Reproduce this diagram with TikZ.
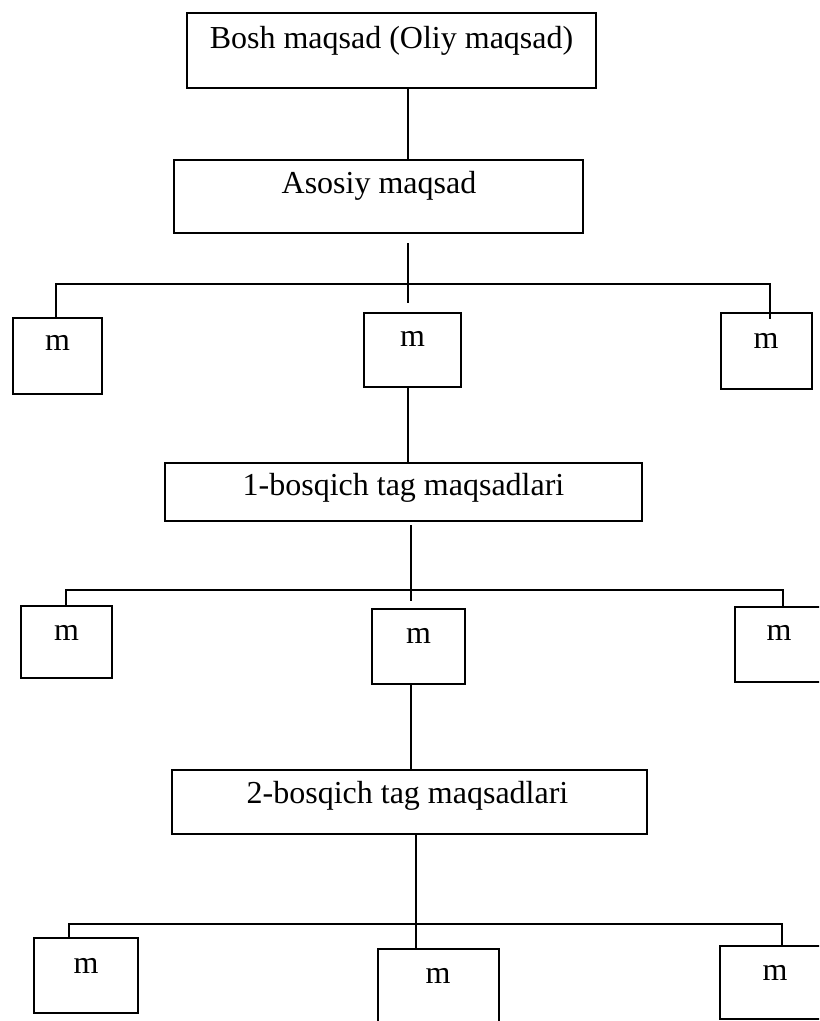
\documentclass[tikz,border=0pt]{standalone}
\usepackage{fontspec}
\setmainfont{Liberation Serif}
\begin{document}
\begin{tikzpicture}[x=0.75pt, y=-0.75pt,
  box/.style 2 args={draw, line width=1.5pt, rectangle, inner sep=0pt, outer sep=0pt,
    minimum width=#1*0.75pt, minimum height=#2*0.75pt},
  lbl/.style={anchor=base, inner sep=0pt, font=\fontsize{24}{28}\selectfont},
  link/.style={line width=1.5pt}]
\clip (0,0) rectangle (819,1021);
\fill[white] (0,0) rectangle (819,1021);

% top levels
\node[box={409}{75}] (bosh) at (391.5,50.5) {};
\node[lbl] (bosh-t) at (391.5,48) {Bosh maqsad (Oliy maqsad)};
\node[box={409}{73}] (asosiy) at (378.5,196.5) {};
\node[lbl] (asosiy-t) at (379,193) {Asosiy maqsad};

% first row of sub-goals
\node[box={89}{76}] (r1l) at (57.5,356) {};
\node[box={97}{74}] (r1m) at (412.5,350) {};
\node[box={91}{76}] (r1r) at (766.5,351) {};
\node[lbl] (r1l-t) at (57.5,350) {m};
\node[lbl] (r1m-t) at (412.5,346) {m};
\node[lbl] (r1r-t) at (766,348) {m};

\node[box={477}{58}] (b1) at (403.5,492) {};
\node[lbl] (b1-t) at (403.5,495) {1-bosqich tag maqsadlari};

% second row
\node[box={91}{72}] (r2l) at (66.5,642) {};
\node[box={93}{75}] (r2m) at (418.5,646.5) {};
\node[box={125}{75}] (r2r) at (797.5,644.5) {};
\node[lbl] (r2l-t) at (66.5,640) {m};
\node[lbl] (r2m-t) at (418.5,643) {m};
\node[lbl] (r2r-t) at (779,640) {m};

\node[box={475}{64}] (b2) at (409.5,802) {};
\node[lbl] (b2-t) at (407.5,803) {2-bosqich tag maqsadlari};

% third row
\node[box={104}{75}] (r3l) at (86,975.5) {};
\node[box={121}{121}] (r3m) at (438.5,1009.5) {};
\node[box={140}{73}] (r3r) at (790,982.5) {};
\node[lbl] (r3l-t) at (86,973) {m};
\node[lbl] (r3m-t) at (438,983) {m};
\node[lbl] (r3r-t) at (775,980) {m};

% connector points
\coordinate (s0) at (408,0);
\coordinate (s1top) at (408,243);
\coordinate (s1bot) at (408,303);
\coordinate (bar1L) at (56,284);
\coordinate (bar1R) at (770,284);
\coordinate (bar1Rend) at (770,319);
\coordinate (s2) at (411,0);
\coordinate (s2top) at (411,525);
\coordinate (s2bot) at (411,601);
\coordinate (bar2L) at (66,590);
\coordinate (bar2R) at (783,590);
\coordinate (s3) at (416,0);
\coordinate (bar3L) at (69,924);
\coordinate (bar3R) at (782,924);

% connectors
\draw[link] (bosh.south -| s0) -- (asosiy.north -| s0);
\draw[link] (s1top) -- (s1bot);
\draw[link] (bar1L |- r1l.north) -- (bar1L) -- (bar1R) -- (bar1Rend);
\draw[link] (r1m.south -| s0) -- (b1.north -| s0);

\draw[link] (s2top) -- (s2bot);
\draw[link] (bar2L |- r2l.north) -- (bar2L) -- (bar2R) -- (bar2R |- r2r.north);
\draw[link] (r2m.south -| s2) -- (b2.north -| s2);

\draw[link] (b2.south -| s3) -- (r3m.north -| s3);
\draw[link] (bar3L |- r3l.north) -- (bar3L) -- (bar3R) -- (bar3R |- r3r.north);
\end{tikzpicture}
\end{document}
